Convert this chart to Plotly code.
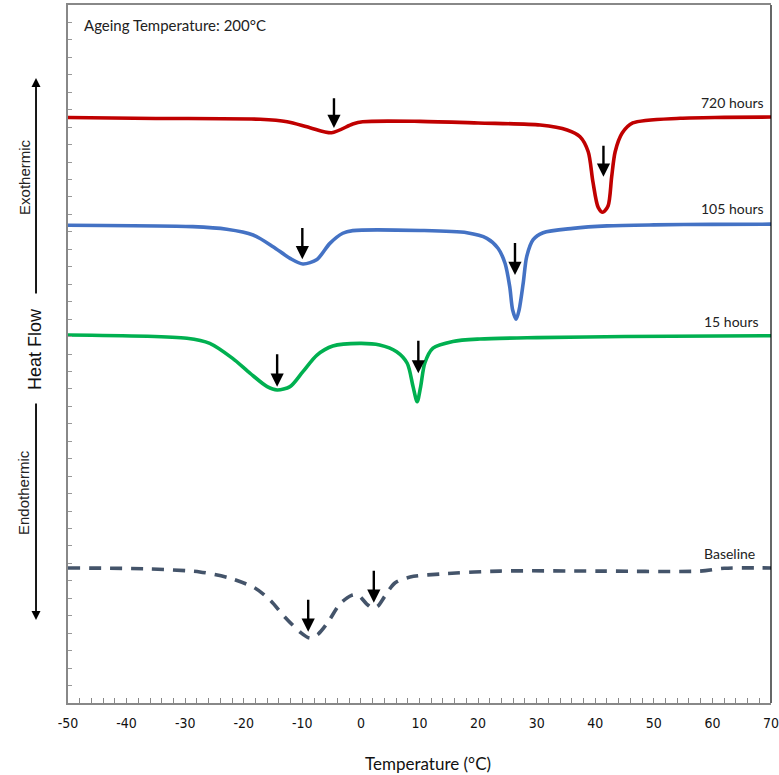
import plotly.graph_objects as go

# ---- data (temperature in °C, heat flow in arbitrary units) ----
red_T = [-50, -35, -17.2, -12.6, -8.7, -5.0, -1.4, 0.3, 10.1, 20, 30.6, 35.2, 37.4, 38.8, 39.6, 40.5, 41.3, 42.2, 42.8, 43.4, 44.6, 46.4, 54.5, 62, 70]
red_H = [33.55, 33.5, 33.45, 33.31, 32.97, 32.68, 33.18, 33.31, 33.33, 33.24, 33.12, 32.84, 32.45, 31.59, 29.87, 28.4, 28.12, 28.5, 30.14, 31.59, 32.66, 33.24, 33.51, 33.56, 33.58]

blue_T = [-50, -28.7, -22.9, -18.4, -15.0, -12.1, -9.9, -7.5, -5.3, -3.1, -1.4, 10.1, 18.1, 21.5, 23.4, 24.6, 25.4, 25.9, 26.5, 27.0, 27.7, 28.3, 29.4, 31.1, 36.2, 42, 50, 60, 70]
blue_H = [27.38, 27.30, 27.15, 26.82, 26.15, 25.48, 25.16, 25.42, 26.34, 26.92, 27.07, 27.08, 26.95, 26.63, 26.06, 25.20, 23.86, 22.52, 21.99, 22.52, 24.05, 25.58, 26.55, 26.95, 27.20, 27.34, 27.40, 27.43, 27.44]

green_T = [-50, -29.7, -25.8, -21.9, -18.9, -16.0, -14.3, -12.1, -9.9, -7.5, -4.8, -0.2, 3.2, 6.1, 7.9, 8.9, 9.6, 10.2, 10.9, 12.3, 15.7, 20.3, 30, 45, 70]
green_H = [21.09, 20.90, 20.61, 19.75, 18.89, 18.13, 17.94, 18.13, 18.99, 19.94, 20.46, 20.61, 20.52, 20.13, 19.47, 18.13, 17.27, 18.13, 19.47, 20.33, 20.72, 20.86, 20.94, 21.0, 21.05]

base_T = [-50, -36.0, -27.5, -22.4, -18.1, -15.5, -13.0, -10.4, -8.7, -7.3, -5.6, -3.6, -1.7, -0.5, 1.0, 2.0, 2.9, 4.1, 5.8, 8.4, 13.5, 23.7, 40.8, 57.9, 62, 70]
base_H = [7.74, 7.68, 7.51, 7.16, 6.59, 5.90, 4.93, 4.07, 3.72, 3.95, 4.64, 5.67, 6.15, 6.19, 5.67, 5.44, 5.56, 6.13, 6.88, 7.22, 7.39, 7.56, 7.56, 7.56, 7.72, 7.74]

series_names = ["720 hours", "105 hours", "15 hours", "Baseline"]

# peak markers: temperature, arrow tail height, arrow tip height
arrow_T = [-4.6, 41.4, -10.0, 26.3, -14.3, 9.8, -9.0, 2.2]
arrow_tail = [34.74, 32.02, 27.30, 26.44, 20.07, 20.84, 6.00, 7.66]
arrow_tip = [32.95, 30.16, 25.43, 24.53, 18.13, 18.89, 4.09, 5.75]

x_ticks = [-50, -40, -30, -20, -10, 0, 10, 20, 30, 40, 50, 60, 70]
x_tick_labels = ["-50", "-40", "-30", "-20", "-10", "0", "10", "20", "30", "40", "50", "60", "70"]

fig = go.Figure()
styles = [
    (red_T, red_H, "#C00000", "solid"),
    (blue_T, blue_H, "#4472C4", "solid"),
    (green_T, green_H, "#00B050", "solid"),
    (base_T, base_H, "#44546A", "12px,9px"),
]
for (t, h, c, d), name in zip(styles, series_names):
    fig.add_trace(go.Scatter(x=t, y=h, mode="lines", name=name,
                             line=dict(color=c, width=3.6, dash=d, shape="spline", smoothing=0.8),
                             showlegend=False, hoverinfo="skip"))

for t, a, b in zip(arrow_T, arrow_tail, arrow_tip):
    fig.add_annotation(x=t, y=b, ax=t, ay=a, xref="x", yref="y", axref="x", ayref="y",
                       showarrow=True, arrowhead=2, arrowsize=1.1, arrowwidth=2.4,
                       arrowcolor="black", text="")

label_font = dict(family="Lato, Open Sans, sans-serif", size=14, color="#222")
label_pos = [(0.993, 0.861), (0.993, 0.708), (0.986, 0.546), (0.980, 0.2135)]
for name, (px, py) in zip(series_names, label_pos):
    fig.add_annotation(x=px, y=py, xref="paper", yref="paper", text=name, showarrow=False,
                       xanchor="right", yanchor="middle", font=label_font)

fig.add_annotation(x=0.02, y=0.9713, xref="paper", yref="paper", text="Ageing Temperature: 200°C",
                   showarrow=False, xanchor="left", yanchor="middle",
                   font=dict(family="Lato, Open Sans, sans-serif", size=15, color="#222"))

# left side heat-flow indicator
side_font = dict(family="Liberation Sans, Arial, sans-serif", size=15, color="#222")
fig.add_annotation(x=-0.0455, y=0.8954, xref="paper", yref="paper", ax=0, ay=217,
                   showarrow=True, arrowhead=2, arrowsize=1.0, arrowwidth=1.8, arrowcolor="black", text="")
fig.add_annotation(x=-0.0455, y=0.1189, xref="paper", yref="paper", ax=0, ay=-218,
                   showarrow=True, arrowhead=2, arrowsize=1.0, arrowwidth=1.8, arrowcolor="black", text="")
fig.add_annotation(x=-0.0612, y=0.7536, xref="paper", yref="paper", text="Exothermic", textangle=-90,
                   showarrow=False, xanchor="center", yanchor="middle", font=side_font)
fig.add_annotation(x=-0.0469, y=0.5072, xref="paper", yref="paper", text="Heat Flow", textangle=-90,
                   showarrow=False, xanchor="center", yanchor="middle",
                   font=dict(family="Liberation Sans, Arial, sans-serif", size=18, color="#111"))
fig.add_annotation(x=-0.0626, y=0.3023, xref="paper", yref="paper", text="Endothermic", textangle=-90,
                   showarrow=False, xanchor="center", yanchor="middle", font=side_font)

fig.add_annotation(x=0.512, y=-0.086, xref="paper", yref="paper", text="Temperature (°C)",
                   showarrow=False, xanchor="center", yanchor="middle",
                   font=dict(family="Lato, sans-serif", size=17, color="#111"))

# right border (black)
fig.add_shape(type="line", xref="paper", yref="paper", x0=1, x1=1, y0=0, y1=1,
              line=dict(color="black", width=1.2))

fig.update_xaxes(range=[-50, 70], tickvals=x_ticks, ticktext=x_tick_labels, ticks="inside", ticklen=5,
                 tickcolor="#888", ticklabelstandoff=6, ticklabeloverflow="allow", automargin=False,
                 showline=True, linecolor="#888", linewidth=2, mirror=True, showgrid=False, zeroline=False,
                 minor=dict(dtick=2, ticks="inside", ticklen=5, tickcolor="#888"),
                 tickfont=dict(family="DejaVu Sans Condensed, Liberation Sans, sans-serif", size=14, color="#111"))
fig.update_yaxes(range=[0, 40], dtick=1, ticks="inside", ticklen=4, tickcolor="#999", automargin=False,
                 showticklabels=False, showline=True, linecolor="#888", linewidth=2, mirror=False,
                 showgrid=False, zeroline=False)

fig.update_layout(width=779, height=775, margin=dict(l=68, r=8, t=5, b=72),
                  plot_bgcolor="white", paper_bgcolor="white")

fig.write_html("out.html", config={"displayModeBar": False},
               post_script="document.body.style.margin='0';document.body.style.padding='0';")
